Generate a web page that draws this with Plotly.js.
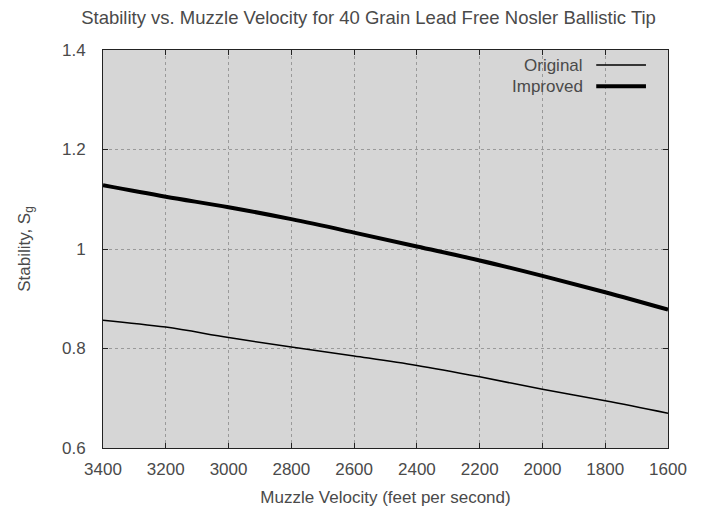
<!DOCTYPE html>
<html>
<head>
<meta charset="utf-8">
<script src="https://cdn.plot.ly/plotly-3.0.1.min.js"></script>
<style>html,body{margin:0;padding:0;background:#fff;}#chart{width:702px;height:508px;}</style>
</head>
<body>
<div id="chart"></div>
<script>
const velocity = [3400, 3200, 3000, 2800, 2600, 2400, 2200, 2000, 1800, 1600];
const original = [0.857, 0.843, 0.822, 0.803, 0.785, 0.766, 0.743, 0.718, 0.695, 0.670];
const improved = [1.128, 1.105, 1.084, 1.060, 1.033, 1.005, 0.977, 0.946, 0.913, 0.878];
const seriesNames = ["Original", "Improved"];

const FONT = "Liberation Sans, Arial, sans-serif";
const TXT = "#4a4a4a";
const FS = 17;

const traces = [
  {x: velocity, y: original, name: seriesNames[0], type: "scatter", mode: "lines",
   line: {color: "#000", width: 1.5, shape: "spline"}, showlegend: false},
  {x: velocity, y: improved, name: seriesNames[1], type: "scatter", mode: "lines",
   line: {color: "#000", width: 4, shape: "spline"}, showlegend: false}
];

const axisCommon = {
  showline: true, linecolor: "#222", linewidth: 1, mirror: "allticks",
  ticks: "inside", ticklen: 5, tickcolor: "#222", tickwidth: 1,
  showgrid: true, gridcolor: "#9a9a9a", griddash: "dot", gridwidth: 1,
  zeroline: false, tickfont: {family: FONT, size: FS, color: TXT}
};

const layout = {
  width: 702, height: 508,
  paper_bgcolor: "#fff", plot_bgcolor: "#d6d6d6",
  margin: {l: 103, r: 34, t: 50, b: 60},
  title: {text: "Stability vs. Muzzle Velocity for 40 Grain Lead Free Nosler Ballistic Tip",
          font: {family: FONT, size: 18.5, color: TXT}, x: 0.525, xanchor: "center", y: 0.965, yanchor: "middle"},
  xaxis: Object.assign({}, axisCommon, {
    range: [3400, 1600], dtick: 200, tick0: 1600, ticklabelstandoff: 6,
    title: {text: "Muzzle Velocity (feet per second)", font: {family: FONT, size: FS, color: TXT}, standoff: 12}
  }),
  yaxis: Object.assign({}, axisCommon, {
    range: [0.6, 1.4], dtick: 0.2, tick0: 0.6, ticklabelstandoff: 13,
    title: {text: "Stability, S<sub>g</sub>", font: {family: FONT, size: FS, color: TXT}, standoff: 27}
  }),
  annotations: [
    {xref: "paper", yref: "paper", x: 0.853, y: 0.962, xanchor: "right", yanchor: "middle",
     text: seriesNames[0], showarrow: false, font: {family: FONT, size: FS, color: TXT}},
    {xref: "paper", yref: "paper", x: 0.853, y: 0.909, xanchor: "right", yanchor: "middle",
     text: seriesNames[1], showarrow: false, font: {family: FONT, size: FS, color: TXT}}
  ],
  shapes: [
    {type: "line", xref: "paper", yref: "paper", x0: 0.873, x1: 0.961, y0: 0.962, y1: 0.962,
     line: {color: "#000", width: 1.5}},
    {type: "line", xref: "paper", yref: "paper", x0: 0.873, x1: 0.961, y0: 0.909, y1: 0.909,
     line: {color: "#000", width: 4}}
  ]
};

Plotly.newPlot("chart", traces, layout, {displayModeBar: false, staticPlot: true});
</script>
</body>
</html>
